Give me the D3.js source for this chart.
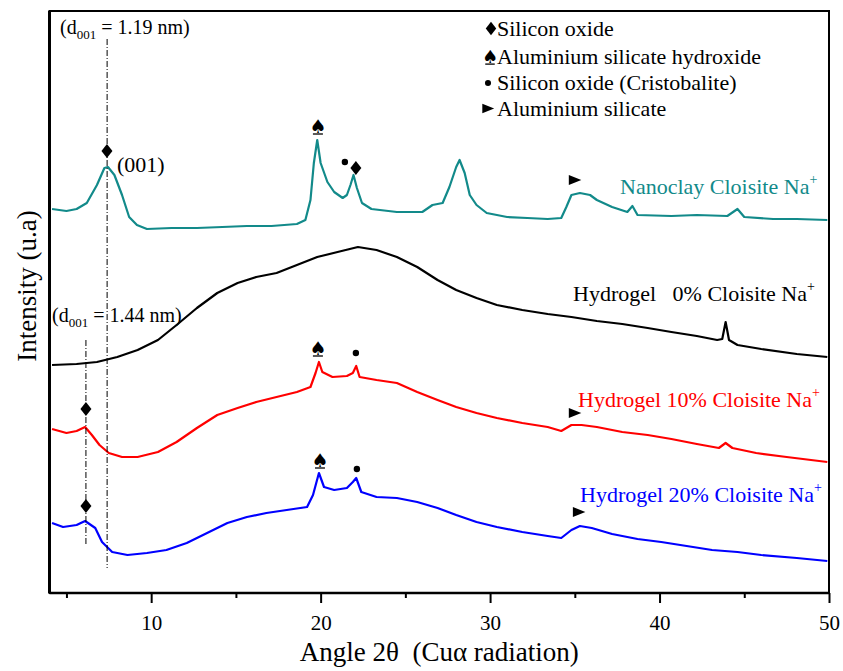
<!DOCTYPE html>
<html>
<head>
<meta charset="utf-8">
<script src="https://cdn.jsdelivr.net/npm/d3@7"></script>
<style>
  body { margin: 0; background: #fff; }
  text { font-family: "Liberation Serif", "Times New Roman", serif; white-space: pre; }
</style>
</head>
<body>
<div id="chart"></div>
<script>
// 2theta (deg) and intensity (a.u., stacked as plotted)
const tealAngle = [4.15, 5.0, 5.6, 6.2, 6.8, 7.24, 7.45, 7.83, 8.28, 8.7, 9.16, 9.75, 11.2, 12.7, 14.2, 15.65, 17.1, 18.6, 19.1, 19.4, 19.6, 19.8, 20.0, 20.4, 20.8, 21.3, 21.55, 21.76, 21.94, 22.14, 22.44, 23.0, 24.5, 26.0, 26.6, 27.2, 27.6, 28.0, 28.2, 28.5, 28.8, 29.2, 29.8, 31.0, 32.2, 33.4, 34.2, 34.5, 34.8, 35.3, 35.9, 36.3, 37.2, 38.1, 38.4, 38.7, 40.7, 42.2, 44.0, 44.6, 45.0, 46.7, 48.1, 49.9];
const tealInt = [384, 382, 384, 390, 408, 425, 426, 418, 398, 376, 368, 364, 365, 365, 366, 367, 367, 369, 373, 393, 430, 453, 430, 411, 401, 395, 398, 408, 418, 405, 390, 384, 381, 381, 388, 390, 406, 426, 433, 420, 398, 388, 380, 376, 375, 374, 375, 386, 398, 400, 398, 393, 386, 381, 387, 378, 377, 378, 377, 384, 376, 374, 374, 373];

const blackAngle = [4.15, 5.6, 6.8, 8.0, 9.2, 10.4, 11.5, 12.7, 13.9, 15.1, 16.2, 17.4, 18.6, 19.8, 21.0, 22.2, 23.3, 24.5, 25.7, 26.9, 28.0, 29.2, 30.4, 31.9, 33.4, 34.8, 36.3, 37.8, 39.3, 40.7, 42.2, 43.4, 43.7, 43.9, 44.1, 44.6, 46.0, 48.1, 49.9];
const blackInt = [228, 229, 231, 236, 243, 253, 268, 285, 300, 310, 316, 320, 328, 336, 341, 346, 343, 336, 326, 313, 303, 295, 288, 283, 279, 276, 272, 269, 265, 261, 257, 253, 254, 271, 253, 248, 244, 239, 236];

const redAngle = [4.15, 5.0, 5.6, 6.1, 6.5, 6.95, 7.5, 8.28, 9.2, 10.4, 11.5, 12.7, 13.9, 15.1, 16.2, 17.4, 18.6, 19.4, 19.7, 19.9, 20.1, 20.7, 21.55, 21.9, 22.1, 22.3, 23.3, 24.5, 25.7, 26.9, 28.0, 29.2, 30.4, 31.9, 33.4, 34.2, 34.8, 35.4, 36.3, 37.8, 39.3, 40.7, 42.2, 43.5, 43.9, 44.3, 45.7, 47.5, 49.9];
const redInt = [164, 160, 162, 166, 158, 148, 140, 136, 136, 141, 151, 165, 178, 185, 191, 196, 201, 206, 220, 231, 221, 216, 217, 220, 227, 216, 213, 210, 201, 193, 186, 180, 175, 170, 166, 162, 168, 168, 166, 161, 158, 154, 149, 145, 150, 145, 140, 136, 131];

const blueAngle = [4.15, 4.8, 5.6, 6.1, 6.7, 7.1, 7.7, 8.6, 9.75, 10.9, 12.1, 13.3, 14.5, 15.65, 16.8, 18.0, 19.2, 19.55, 19.9, 20.2, 20.8, 21.55, 21.9, 22.1, 22.4, 23.3, 24.5, 25.7, 26.9, 28.0, 29.2, 30.4, 31.9, 33.4, 34.2, 34.8, 35.3, 36.0, 37.2, 38.7, 40.1, 41.6, 43.1, 44.6, 46.0, 48.1, 49.9];
const blueInt = [70, 66, 68, 72, 65, 51, 41, 38, 40, 43, 50, 60, 70, 76, 80, 83, 86, 98, 120, 106, 103, 105, 111, 115, 101, 96, 95, 91, 85, 78, 71, 66, 61, 57, 55, 63, 67, 65, 59, 54, 51, 47, 43, 41, 38, 35, 32];

const majorTicks = [10, 20, 30, 40, 50];
const minorTicks = [5, 15, 25, 35, 45];

// phase markers: symbol, 2theta, intensity
const markers = [
  ['diamond', 7.39, 442], ['spade', 19.84, 467], ['dot', 21.43, 431], ['diamond', 22.08, 425], ['tri', 35.0, 413],
  ['spade', 19.84, 245], ['dot', 22.08, 240], ['diamond', 6.15, 184], ['tri', 35.0, 180],
  ['spade', 19.96, 133], ['dot', 22.14, 124], ['diamond', 6.15, 87], ['tri', 35.24, 81],
];

// d001 reference lines: 2theta, from, to
const dLines = [[7.40, 554, 25], [6.15, 253, 49]];

const legendItems = [
  ['diamond', 'Silicon oxide'],
  ['spade', 'Aluminium silicate hydroxide'],
  ['dot', 'Silicon oxide (Cristobalite)'],
  ['tri', 'Aluminium silicate'],
];

const SERIF = '"Liberation Serif", "Times New Roman", serif';
const W = 843, H = 671;
const margin = { top: 11, left: 49.5, right: 14, bottom: 78 };
const width = W - margin.left - margin.right;
const height = H - margin.top - margin.bottom;

const svg = d3.select('#chart').append('svg')
  .attr('width', W)
  .attr('height', H);

const g = svg.append('g')
  .attr('transform', `translate(${margin.left},${margin.top})`);

const x = d3.scaleLinear().domain([4, 50]).range([0, width]);
const y = d3.scaleLinear().domain([0, 582]).range([height, 0]);

const line = d3.line()
  .x((d) => x(d[0]))
  .y((d) => y(d[1]));

const series = [
  [tealAngle, tealInt, '#128a8a'],
  [blackAngle, blackInt, '#000'],
  [redAngle, redInt, '#ff0000'],
  [blueAngle, blueInt, '#0000ff'],
];

series.forEach(([a, v, c]) => {
  g.append('path')
    .datum(a.map((t, i) => [t, v[i]]))
    .attr('fill', 'none')
    .attr('stroke', c)
    .attr('stroke-width', 2.2)
    .attr('stroke-linejoin', 'round')
    .attr('d', line);
});

g.selectAll('.dline')
  .data(dLines)
  .enter().append('line')
  .attr('x1', (d) => x(d[0])).attr('x2', (d) => x(d[0]))
  .attr('y1', (d) => y(d[1])).attr('y2', (d) => y(d[2]))
  .attr('stroke', '#000')
  .attr('stroke-width', 1)
  .attr('stroke-dasharray', '6,2,1,2');

function drawSymbol(sel, sym, cx, cy, s) {
  if (sym === 'diamond') {
    sel.append('path')
      .attr('d', `M${cx},${cy - 7 * s}L${cx + 5.5 * s},${cy}L${cx},${cy + 7 * s}L${cx - 5.5 * s},${cy}Z`)
      .attr('fill', '#000');
  } else if (sym === 'dot') {
    sel.append('circle').attr('cx', cx).attr('cy', cy).attr('r', 3.2 * s).attr('fill', '#000');
  } else if (sym === 'tri') {
    sel.append('path')
      .attr('d', `M${cx - 6 * s},${cy - 5 * s}L${cx + 6.5 * s},${cy}L${cx - 6 * s},${cy + 5 * s}Z`)
      .attr('fill', '#000');
  } else {
    sel.append('text')
      .attr('x', cx).attr('y', cy + 6.5 * s)
      .attr('text-anchor', 'middle')
      .style('font-family', '"DejaVu Sans", sans-serif')
      .style('font-size', `${19 * s}px`)
      .text('\u2660');
    sel.append('line')
      .attr('x1', cx - 5 * s).attr('x2', cx + 5 * s)
      .attr('y1', cy + 8 * s).attr('y2', cy + 8 * s)
      .attr('stroke', '#000').attr('stroke-width', 1.3);
  }
}

markers.forEach(([sym, t, v]) => drawSymbol(g, sym, x(t), y(v), 1));

// axes
const xAxis = g.append('g')
  .attr('transform', `translate(0,${height})`)
  .call(d3.axisBottom(x).tickValues(majorTicks).tickSize(10).tickPadding(12).tickFormat(d3.format('d')));
xAxis.select('.domain').remove();
xAxis.selectAll('line').attr('stroke-width', 2);
xAxis.selectAll('text')
  .style('font-family', SERIF)
  .style('font-size', '21px')
  .attr('fill', '#000');

const xMinor = g.append('g')
  .attr('transform', `translate(0,${height})`)
  .call(d3.axisBottom(x).tickValues(minorTicks).tickSize(5).tickFormat(''));
xMinor.select('.domain').remove();
xMinor.selectAll('line').attr('stroke-width', 2);

g.append('rect')
  .attr('width', width).attr('height', height)
  .attr('fill', 'none').attr('stroke', '#000').attr('stroke-width', 2);
g.append('line').attr('x1', 0).attr('x2', 0).attr('y1', 0).attr('y2', height)
  .attr('stroke', '#000').attr('stroke-width', 3);
g.append('line').attr('x1', 0).attr('x2', width).attr('y1', height).attr('y2', height)
  .attr('stroke', '#000').attr('stroke-width', 2.5);

svg.append('text')
  .attr('x', margin.left + width / 2).attr('y', 661)
  .attr('text-anchor', 'middle')
  .style('font-family', SERIF)
  .style('font-size', '27px')
  .text('Angle 2\u03b8  (Cu\u03b1 radiation)');

svg.append('text')
  .attr('transform', 'translate(36,286) rotate(-90)')
  .attr('text-anchor', 'middle')
  .style('font-family', SERIF)
  .style('font-size', '27px')
  .text('Intensity (u.a)');

// legend
const legend = svg.append('g');
legendItems.forEach(([sym, label], i) => {
  const by = [35.5, 63.5, 90, 115.5][i];
  const sx = [491, 490, 488, 488][i];
  drawSymbol(legend, sym, sx, by - 7, 0.95);
  legend.append('text')
    .attr('x', 497).attr('y', by)
    .style('font-family', SERIF)
    .style('font-size', '22px')
    .text(label);
});

// annotations
function dLabel(x0, y0, val) {
  const t = svg.append('text').attr('x', x0).attr('y', y0)
    .style('font-family', SERIF)
    .style('font-size', '20px');
  t.append('tspan').text('(d');
  t.append('tspan').attr('dy', 5).style('font-size', '13px').text('001');
  t.append('tspan').attr('dy', -5).text(` = ${val} nm)`);
}
dLabel(60, 34, '1.19');
dLabel(52, 322, '1.44');

svg.append('text')
  .attr('x', 117).attr('y', 172)
  .style('font-family', SERIF)
  .style('font-size', '22px')
  .text('(001)');

const seriesLabels = [
  ['Nanoclay Cloisite Na', 620, 194, '#128a8a'],
  ['Hydrogel   0% Cloisite Na', 573, 300.5, '#000'],
  ['Hydrogel 10% Cloisite Na', 578, 406.5, '#ff0000'],
  ['Hydrogel 20% Cloisite Na', 580, 501.5, '#0000ff'],
];
seriesLabels.forEach(([label, lx, ly, c]) => {
  const t = svg.append('text').attr('x', lx).attr('y', ly)
    .attr('fill', c)
    .style('font-family', SERIF)
    .style('font-size', '22px');
  t.append('tspan').text(label);
  t.append('tspan').attr('dy', -10).style('font-size', '14px').text('+');
});
</script>
</body>
</html>
